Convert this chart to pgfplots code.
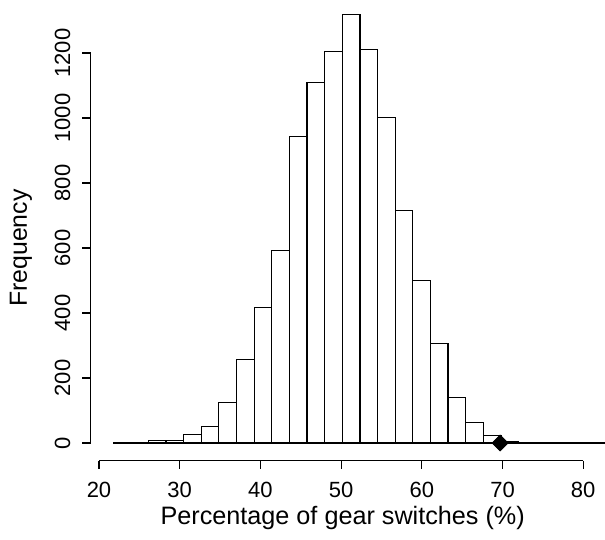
\documentclass[border=0pt]{standalone}
\usepackage{fontspec}
\setmainfont{Liberation Sans}
\usepackage{pgfplots}
\pgfplotsset{compat=1.18}

\begin{document}
\begin{tikzpicture}
\path[use as bounding box] (0,0) rectangle (302.5pt,270pt);
\begin{axis}[
    at={(42.5pt,35pt)}, anchor=south west,
    scale only axis, width=260pt, height=235pt,
    xmin=18.265, xmax=82.70, ymin=-83.08, ymax=1363.1,
    hide axis, clip=false,
]
% zero line over the whole bin range
\addplot[black, line width=0.6pt] coordinates {(21.74,0) (82.70,0)};
% histogram, left bin edges, bin width 2.185
\addplot[ybar interval, fill=white, draw=black, line width=0.6pt] coordinates {
    (26.110,7) (28.295,7) (30.480,27) (32.665,50) (34.850,125)
    (37.035,258) (39.220,418) (41.405,593) (43.590,942) (45.775,1110)
    (47.960,1205) (50.145,1318) (52.330,1212) (54.515,1001) (56.700,716)
    (58.885,499) (61.070,307) (63.255,140) (65.440,64) (67.625,23)
    (69.810,5) (71.995,2) (74.180,1) (76.365,1)};
% observed value
\addplot[only marks, mark=square*, mark size=2.8pt, black,
    mark options={rotate=45}] coordinates {(69.7,0)};

% R style axes
\draw[line width=0.6pt] (axis cs:20,-54.5) -- (axis cs:80,-54.5);
\pgfplotsinvokeforeach{20,30,...,80}{
    \draw[line width=0.6pt] (axis cs:#1,-54.5) -- ([yshift=-4.2pt]axis cs:#1,-54.5);
    \node[font=\fontsize{11}{13}\selectfont] at (axis cs:#1,-144.6) {#1};
}
\draw[line width=0.6pt] (axis cs:18.97,0) -- (axis cs:18.97,1200);
\pgfplotsinvokeforeach{0,200,...,1200}{
    \draw[line width=0.6pt] (axis cs:18.97,#1) -- ([xshift=-4.2pt]axis cs:18.97,#1);
    \node[rotate=90, font=\fontsize{11}{13}\selectfont] at (axis cs:15.48,#1) {#1};
}
\node[font=\fontsize{12.6}{15}\selectfont] at (axis cs:50.2,-230.8)
    {Percentage of gear switches (\%)};
\node[rotate=90, font=\fontsize{12.4}{15}\selectfont] at (axis cs:10.33,600)
    {Frequency};
\end{axis}
\end{tikzpicture}
\end{document}
